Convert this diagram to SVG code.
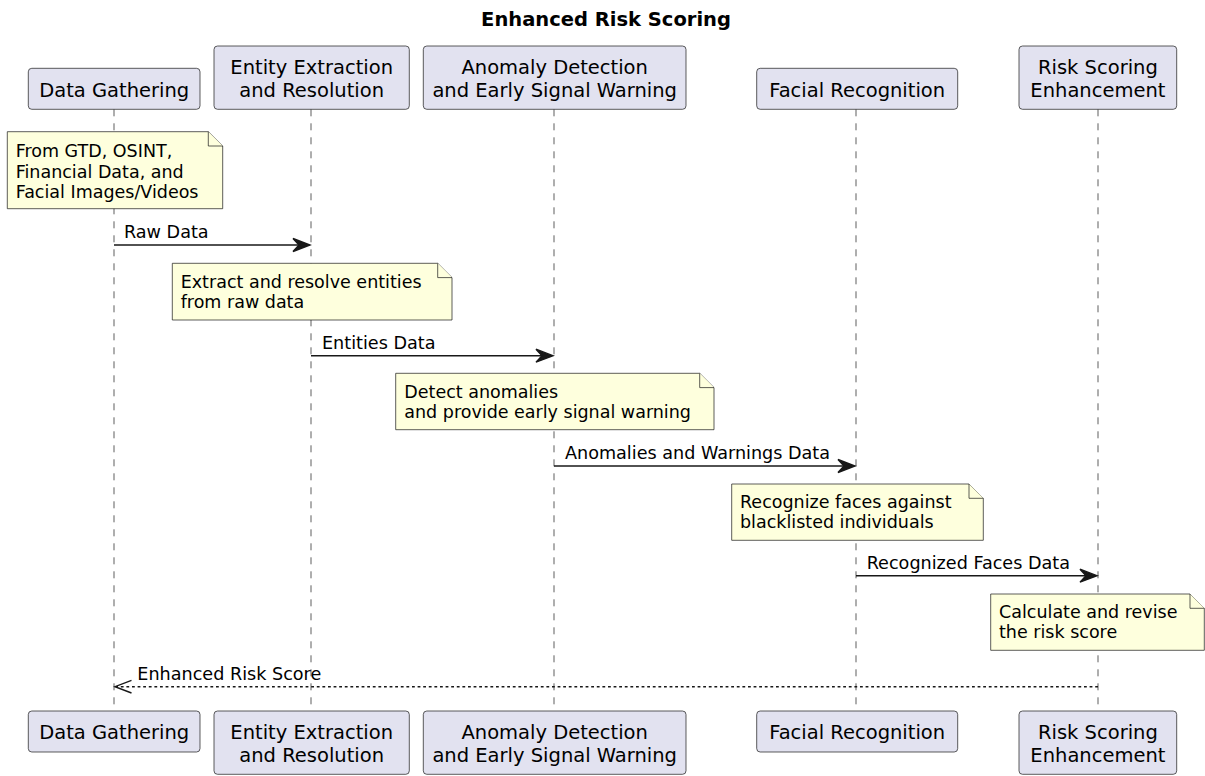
<svg xmlns="http://www.w3.org/2000/svg" width="1205" height="776" viewBox="0 0 1205 776">
  <style>
    .part rect { fill: #E2E2F0; stroke: #181818; stroke-width: 0.7; }
    .part text { font-family: "DejaVu Sans", "Liberation Sans", sans-serif; font-size: 19.5px; fill: #000; text-anchor: middle; }
    .note path { fill: #FEFFDD; stroke: #181818; stroke-width: 0.7; }
    .note text { font-family: "DejaVu Sans", "Liberation Sans", sans-serif; font-size: 17.5px; fill: #000; }
    .life { stroke: #181818; stroke-width: 0.7; stroke-dasharray: 7 7; fill: none; }
    .msg { stroke: #181818; stroke-width: 1.4; fill: none; }
    .ret { stroke: #181818; stroke-width: 1.4; stroke-dasharray: 2.8 2.8; fill: none; }
    .head { fill: #181818; stroke: #181818; stroke-width: 1.4; }
    .open { fill: none; stroke: #181818; stroke-width: 1.4; }
    .lbl { font-family: "DejaVu Sans", "Liberation Sans", sans-serif; font-size: 17.6px; fill: #000; }
    .title { font-family: "DejaVu Sans", "Liberation Sans", sans-serif; font-size: 19.5px; font-weight: bold; fill: #000; text-anchor: middle; }
  </style>

  <rect x="0" y="0" width="1205" height="776" fill="#FFFFFF"/>

  <text class="title" x="606" y="26">Enhanced Risk Scoring</text>

  <!-- lifelines -->
  <g id="lifelines">
    <line class="life" x1="114" y1="109.3" x2="114" y2="711"/>
    <line class="life" x1="311" y1="109.3" x2="311" y2="711"/>
    <line class="life" x1="554" y1="109.3" x2="554" y2="711"/>
    <line class="life" x1="856" y1="109.3" x2="856" y2="711"/>
    <line class="life" x1="1098" y1="109.3" x2="1098" y2="711"/>
  </g>

  <!-- participants (head and foot) -->
  <g id="data-gathering" class="part">
    <rect x="28.3" y="68.3" width="171.7" height="41" rx="3.5"/>
    <text x="114.2" y="96.7">Data Gathering</text>
    <rect x="28.3" y="711" width="171.7" height="41" rx="3.5"/>
    <text x="114.2" y="739.4">Data Gathering</text>
  </g>
  <g id="entity-extraction" class="part">
    <rect x="214" y="46" width="195.3" height="63.3" rx="3.5"/>
    <text x="311.7" y="74">Entity Extraction</text>
    <text x="311.7" y="96.7">and Resolution</text>
    <rect x="214" y="711" width="195.3" height="63.3" rx="3.5"/>
    <text x="311.7" y="739">Entity Extraction</text>
    <text x="311.7" y="761.7">and Resolution</text>
  </g>
  <g id="anomaly-detection" class="part">
    <rect x="423.3" y="46" width="262.7" height="63.3" rx="3.5"/>
    <text x="554.7" y="74">Anomaly Detection</text>
    <text x="554.7" y="96.7">and Early Signal Warning</text>
    <rect x="423.3" y="711" width="262.7" height="63.3" rx="3.5"/>
    <text x="554.7" y="739">Anomaly Detection</text>
    <text x="554.7" y="761.7">and Early Signal Warning</text>
  </g>
  <g id="facial-recognition" class="part">
    <rect x="756.7" y="68.3" width="201" height="41" rx="3.5"/>
    <text x="857.2" y="96.7">Facial Recognition</text>
    <rect x="756.7" y="711" width="201" height="41" rx="3.5"/>
    <text x="857.2" y="739.4">Facial Recognition</text>
  </g>
  <g id="risk-scoring" class="part">
    <rect x="1019" y="46" width="157.7" height="63.3" rx="3.5"/>
    <text x="1097.9" y="74">Risk Scoring</text>
    <text x="1097.9" y="96.7">Enhancement</text>
    <rect x="1019" y="711" width="157.7" height="63.3" rx="3.5"/>
    <text x="1097.9" y="739">Risk Scoring</text>
    <text x="1097.9" y="761.7">Enhancement</text>
  </g>

  <!-- notes -->
  <g id="note-sources" class="note">
    <path d="M7.3,131.7 L208.3,131.7 L222.7,146 L222.7,208.7 L7.3,208.7 Z"/>
    <path d="M208.3,131.7 L208.3,146 L222.7,146" fill="none"/>
    <text x="15.7" y="157.3">From GTD, OSINT,</text>
    <text x="15.7" y="177.5">Financial Data, and</text>
    <text x="15.7" y="197.7">Facial Images/Videos</text>
  </g>
  <g id="note-extract" class="note">
    <path d="M172.3,263.3 L437.7,263.3 L452,277.6 L452,320 L172.3,320 Z"/>
    <path d="M437.7,263.3 L437.7,277.6 L452,277.6" fill="none"/>
    <text x="180.7" y="287.5">Extract and resolve entities</text>
    <text x="180.7" y="307.8">from raw data</text>
  </g>
  <g id="note-anomalies" class="note">
    <path d="M395.7,373.3 L699.7,373.3 L714,387.6 L714,429.7 L395.7,429.7 Z"/>
    <path d="M699.7,373.3 L699.7,387.6 L714,387.6" fill="none"/>
    <text x="404.3" y="397.5">Detect anomalies</text>
    <text x="404.3" y="417.8">and provide early signal warning</text>
  </g>
  <g id="note-faces" class="note">
    <path d="M731.7,484 L969,484 L983.3,498.3 L983.3,540.3 L731.7,540.3 Z"/>
    <path d="M969,484 L969,498.3 L983.3,498.3" fill="none"/>
    <text x="740" y="508">Recognize faces against</text>
    <text x="740" y="528.3">blacklisted individuals</text>
  </g>
  <g id="note-score" class="note">
    <path d="M990.7,594 L1190,594 L1204.3,608.3 L1204.3,650.3 L990.7,650.3 Z"/>
    <path d="M1190,594 L1190,608.3 L1204.3,608.3" fill="none"/>
    <text x="999" y="618">Calculate and revise</text>
    <text x="999" y="638.3">the risk score</text>
  </g>

  <!-- messages -->
  <g id="connectors">
    <line class="msg" x1="114" y1="245" x2="306" y2="245"/>
    <polygon class="head" points="293,238.5 310,245 293,251.5 299,245"/>
    <text class="lbl" x="124" y="238">Raw Data</text>

    <line class="msg" x1="311" y1="355.7" x2="549" y2="355.7"/>
    <polygon class="head" points="536,349.2 553,355.7 536,362.2 542,355.7"/>
    <text class="lbl" x="322" y="348.7">Entities Data</text>

    <line class="msg" x1="554" y1="466" x2="851" y2="466"/>
    <polygon class="head" points="838,459.5 855,466 838,472.5 844,466"/>
    <text class="lbl" x="565" y="459">Anomalies and Warnings Data</text>

    <line class="msg" x1="856" y1="575.7" x2="1093" y2="575.7"/>
    <polygon class="head" points="1080,569.2 1097,575.7 1080,582.2 1086,575.7"/>
    <text class="lbl" x="866.7" y="568.7">Recognized Faces Data</text>

    <line class="ret" x1="1098" y1="686.7" x2="116" y2="686.7"/>
    <polyline class="open" points="131.5,680.4 115,686.7 131.5,693"/>
    <text class="lbl" x="137.3" y="679.7">Enhanced Risk Score</text>
  </g>
</svg>
